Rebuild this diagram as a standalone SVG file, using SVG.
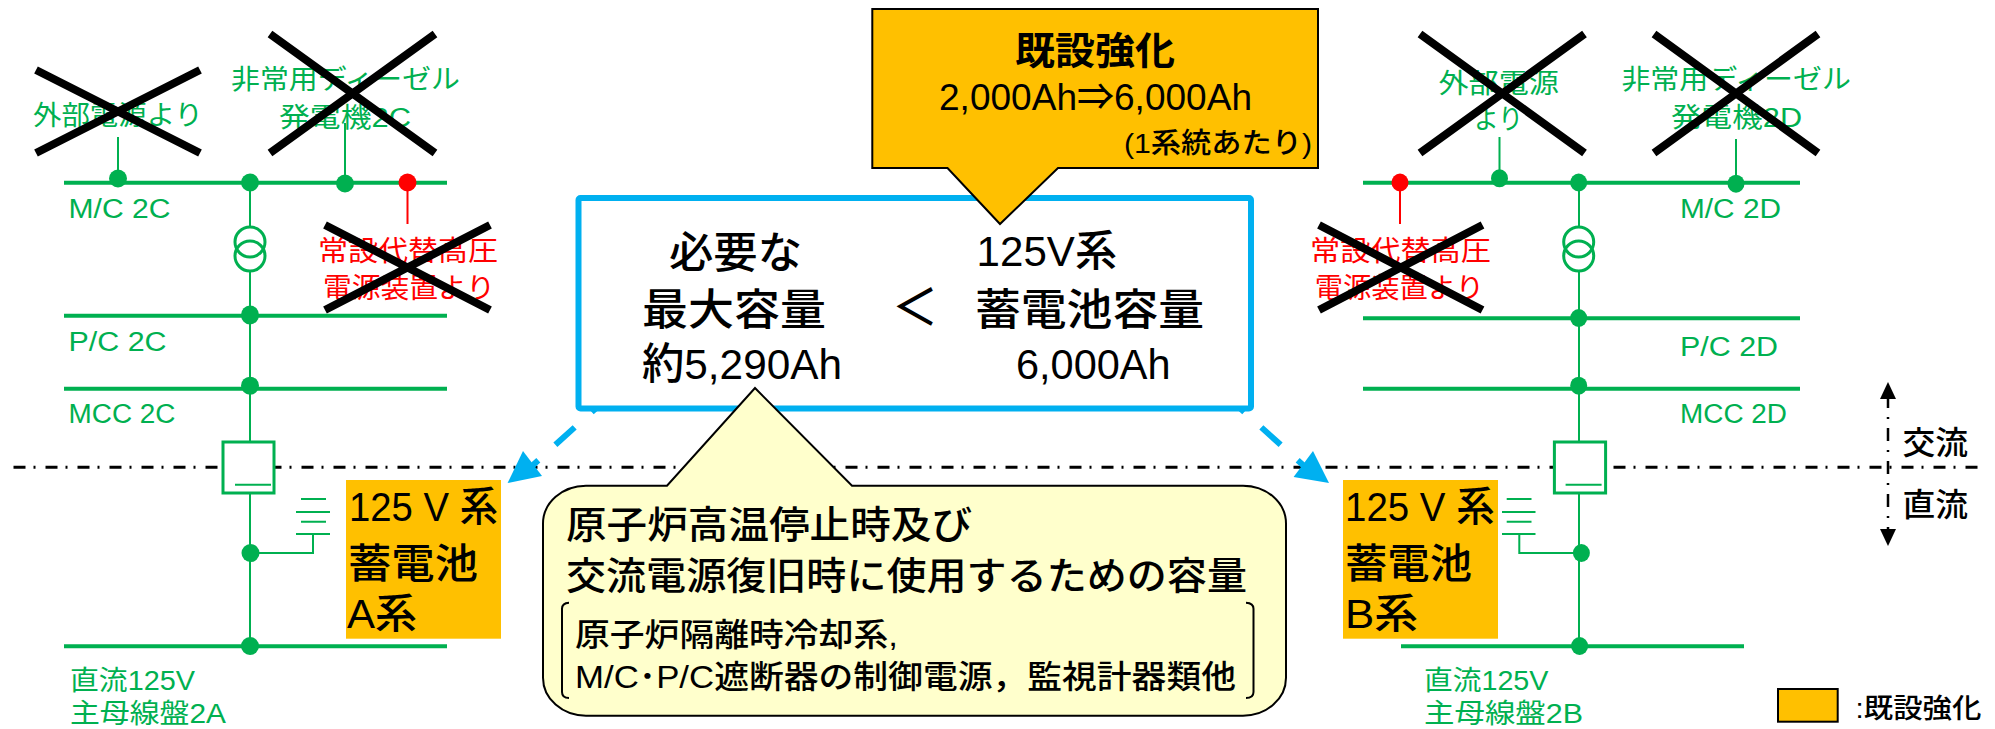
<svg xmlns="http://www.w3.org/2000/svg" width="1995" height="729" viewBox="0 0 1995 729">
<style>
text{font-family:"Liberation Sans","Noto Sans CJK JP",sans-serif;fill:#000}
.g{fill:#00B050;font-size:27px}
.r{fill:#FF0000;font-size:28px}
.k{font-size:41px;font-weight:500}
.c{font-size:43px;font-weight:500}
.b{font-size:38px;font-weight:500}
.s{font-size:32px;font-weight:500}
.bus{stroke:#00B050;stroke-width:4;fill:none}
.thin{stroke:#00B050;stroke-width:2;fill:none}
.sym{stroke:#00B050;stroke-width:3;fill:#fff}
.x{stroke:#000;stroke-width:8;fill:none}
.df{fill:#00B050}
.dr{fill:#FF0000}
.or{fill:#FFC000}
.dash{stroke:#00B0F0;stroke-width:6;stroke-dasharray:26 23;fill:none}
.dd{stroke:#000;stroke-width:3;stroke-dasharray:12 8 2 10;fill:none}
</style>
<rect width="1995" height="729" fill="#fff"/>
<g id="connectors">
<path class="dd" d="M13.500 467.300H1978"/>
<path class="dd" style="stroke-width:2.500;stroke-dasharray:13 9 2 9" d="M1888 395V535"/>
<polygon points="1888,382 1880,399 1896,399"/>
<polygon points="1888,546 1880,529 1896,529"/>
<path class="dash" d="M611 394.500L522 475"/>
<polygon fill="#00B0F0" points="507.600,483 523,451 542,476"/>
<path class="dash" d="M1225 394.500L1314 475"/>
<polygon fill="#00B0F0" points="1329,483 1313,451 1293.600,477"/>
<path class="bus" d="M64 182.700H447M64 315.700H447M64 388.700H447M64 646.300H447"/>
<path class="bus" d="M1363 182.700H1800M1363 318.300H1800M1363 388.700H1800M1401 646.300H1744"/>
<path class="thin" d="M250 182V227M250 271V646M118 137V178M345 123V183M313 534V553H250"/>
<path class="thin" d="M1579 182V227M1579 271V646M1499.500 137V178M1736 139V183M1519.300 534V553H1581"/>
<path class="thin" style="stroke:#f00" d="M407.500 182V224M1400 182V224"/>
</g>
<g id="left-system">
<g id="transformer-2c"><circle class="sym" style="fill:none" cx="250" cy="242" r="15"/><circle class="sym" style="fill:none" cx="250" cy="256" r="15"/></g>
<g id="charger-a"><rect class="sym" x="223" y="442" width="51" height="51"/><path class="thin" d="M235 484.700H271"/></g>
<g id="battery-a"><path class="thin" d="M301 499H326M296 512H330M301 521.700H326M296 534H330"/></g>
<g id="dots-a">
<ellipse class="df" cx="118" cy="178.500" rx="9" ry="9"/><ellipse class="df" cx="250" cy="182.500" rx="9" ry="9"/><ellipse class="df" cx="345" cy="183.500" rx="9" ry="9"/><ellipse class="dr" cx="407.500" cy="182.500" rx="9" ry="9"/>
<ellipse class="df" cx="250" cy="315" rx="9" ry="9.500"/><ellipse class="df" cx="250" cy="385.700" rx="9" ry="9"/><ellipse class="df" cx="250.500" cy="553" rx="9" ry="9"/><ellipse class="df" cx="250" cy="646" rx="9" ry="9"/>
</g>
<g id="labels-a">
<text class="g" x="33" y="125" textLength="170" lengthAdjust="spacingAndGlyphs">外部電源より</text>
<text class="g" x="231" y="89" textLength="229" lengthAdjust="spacingAndGlyphs">非常用ディーゼル</text>
<text class="g" x="279" y="127" textLength="132" lengthAdjust="spacingAndGlyphs">発電機2C</text>
<text class="r" x="318" y="261" textLength="180" lengthAdjust="spacingAndGlyphs">常設代替高圧</text>
<text class="r" x="323" y="298" textLength="172" lengthAdjust="spacingAndGlyphs">電源装置より</text>
<text class="g" x="68.500" y="217.500" textLength="102" lengthAdjust="spacingAndGlyphs">M/C 2C</text>
<text class="g" x="68.500" y="350.700" textLength="98" lengthAdjust="spacingAndGlyphs">P/C 2C</text>
<text class="g" x="68.500" y="423" textLength="107" lengthAdjust="spacingAndGlyphs">MCC 2C</text>
<text class="g" x="70" y="690" textLength="125" lengthAdjust="spacingAndGlyphs">直流125V</text>
<text class="g" x="70" y="723" textLength="156" lengthAdjust="spacingAndGlyphs">主母線盤2A</text>
</g>
<g id="battery-label-a">
<rect class="or" x="346" y="480" width="155" height="158.700"/>
<text class="k" x="349" y="521" textLength="149" lengthAdjust="spacingAndGlyphs">125 V 系</text>
<text class="k" x="348" y="578" textLength="130" lengthAdjust="spacingAndGlyphs">蓄電池</text>
<text class="k" x="347" y="628" textLength="70" lengthAdjust="spacingAndGlyphs">A系</text>
</g>
</g>
<g id="right-system">
<g id="transformer-2d"><circle class="sym" style="fill:none" cx="1578.700" cy="242" r="15"/><circle class="sym" style="fill:none" cx="1578.700" cy="256" r="15"/></g>
<g id="charger-b"><rect class="sym" x="1554.400" y="442" width="51.200" height="51"/><path class="thin" d="M1565.600 484.700H1601.600"/></g>
<g id="battery-b"><path class="thin" d="M1506.700 499H1531.500M1502 512H1535.500M1506.700 521.700H1531.500M1502 534H1535.500"/></g>
<g id="dots-b">
<ellipse class="dr" cx="1400" cy="182.500" rx="8.500" ry="9"/><ellipse class="df" cx="1499.500" cy="178.300" rx="8.500" ry="9"/><ellipse class="df" cx="1578.700" cy="182.500" rx="8.500" ry="9"/><ellipse class="df" cx="1736" cy="183.700" rx="8.500" ry="9"/>
<ellipse class="df" cx="1578.700" cy="318" rx="8.500" ry="9"/><ellipse class="df" cx="1578.700" cy="385.700" rx="8.500" ry="9"/><ellipse class="df" cx="1581.400" cy="553" rx="8.500" ry="9"/><ellipse class="df" cx="1579.600" cy="646" rx="8.500" ry="9"/>
</g>
<g id="labels-b">
<text class="g" x="1438.400" y="92.700" textLength="120.600" lengthAdjust="spacingAndGlyphs">外部電源</text>
<text class="g" x="1474" y="129" textLength="49" lengthAdjust="spacingAndGlyphs">より</text>
<text class="g" x="1621.400" y="89" textLength="229.600" lengthAdjust="spacingAndGlyphs">非常用ディーゼル</text>
<text class="g" x="1671" y="127" textLength="131" lengthAdjust="spacingAndGlyphs">発電機2D</text>
<text class="r" x="1310" y="261" textLength="181" lengthAdjust="spacingAndGlyphs">常設代替高圧</text>
<text class="r" x="1314.700" y="298" textLength="169.300" lengthAdjust="spacingAndGlyphs">電源装置より</text>
<text class="g" x="1680" y="217.500" textLength="101" lengthAdjust="spacingAndGlyphs">M/C 2D</text>
<text class="g" x="1680" y="356" textLength="98" lengthAdjust="spacingAndGlyphs">P/C 2D</text>
<text class="g" x="1680" y="423" textLength="107" lengthAdjust="spacingAndGlyphs">MCC 2D</text>
<text class="g" x="1424" y="690" textLength="124.500" lengthAdjust="spacingAndGlyphs">直流125V</text>
<text class="g" x="1424" y="723" textLength="159" lengthAdjust="spacingAndGlyphs">主母線盤2B</text>
</g>
<g id="battery-label-b">
<rect class="or" x="1343" y="480" width="155" height="158.700"/>
<text class="k" x="1345" y="521" textLength="149.600" lengthAdjust="spacingAndGlyphs">125 V 系</text>
<text class="k" x="1345" y="578" textLength="127" lengthAdjust="spacingAndGlyphs">蓄電池</text>
<text class="k" x="1345" y="628" textLength="73" lengthAdjust="spacingAndGlyphs">B系</text>
</g>
</g>
<g id="crosses">
<path class="x" d="M36 70L200 153M200 70L36 153"/>
<path class="x" d="M270 34L435 153M435 34L270 153"/>
<path class="x" d="M325 225L490 310M490 225L325 310"/>
<path class="x" d="M1420 34L1584.500 153M1584.500 34L1420 153"/>
<path class="x" d="M1654 34L1818 153M1818 34L1654 153"/>
<path class="x" d="M1319 225L1482.500 310M1482.500 225L1319 310"/>
</g>
<g id="capacity-box">
<rect x="578.500" y="198" width="672.500" height="210.500" rx="2" fill="#fff" stroke="#00B0F0" stroke-width="6"/>
<text class="c" x="669" y="268" textLength="133" lengthAdjust="spacingAndGlyphs">必要な</text>
<text class="c" x="642" y="325" textLength="184" lengthAdjust="spacingAndGlyphs">最大容量</text>
<text class="c" x="642" y="379" textLength="200" lengthAdjust="spacingAndGlyphs">約5,290Ah</text>
<text class="c" style="font-size:50px" x="892" y="325" textLength="46" lengthAdjust="spacingAndGlyphs">＜</text>
<text class="c" x="976.600" y="266" textLength="140.400" lengthAdjust="spacingAndGlyphs">125V系</text>
<text class="c" x="975" y="325" textLength="229" lengthAdjust="spacingAndGlyphs">蓄電池容量</text>
<text class="c" x="1016" y="379" textLength="154.500" lengthAdjust="spacingAndGlyphs">6,000Ah</text>
</g>
<g id="reinforce-callout">
<polygon class="or" stroke="#000" stroke-width="2" points="872.300,9 1318,9 1318,168 1058,168 1000,224 947.500,168 872.300,168"/>
<text style="font-size:38px;font-weight:700" x="1015" y="64" textLength="160" lengthAdjust="spacingAndGlyphs">既設強化</text>
<text style="font-size:36px;font-weight:500" x="939" y="110" textLength="313" lengthAdjust="spacingAndGlyphs">2,000Ah⇒6,000Ah</text>
<text style="font-size:28px;font-weight:500" x="1124" y="152.700" textLength="188" lengthAdjust="spacingAndGlyphs">(1系統あたり)</text>
</g>
<g id="purpose-callout">
<path fill="#FFFFCC" stroke="#000" stroke-width="2" d="M586 485.700H667L755 388L852 485.700H1243A43 38 0 0 1 1286 523.700V677.700A43 38 0 0 1 1243 715.700H586A43 38 0 0 1 543 677.700V523.700A43 38 0 0 1 586 485.700Z"/>
<text class="b" x="566" y="538" textLength="406" lengthAdjust="spacingAndGlyphs">原子炉高温停止時及び</text>
<text class="b" x="566" y="589" textLength="681" lengthAdjust="spacingAndGlyphs">交流電源復旧時に使用するための容量</text>
<text class="s" x="575" y="645.700" textLength="323" lengthAdjust="spacingAndGlyphs">原子炉隔離時冷却系,</text>
<text class="s" x="575" y="688" textLength="661" lengthAdjust="spacingAndGlyphs">M/C･P/C遮断器の制御電源，監視計器類他</text>
<path d="M569 602.700Q562 603 562 608.700V692Q562 698 569 698M1246 602.700Q1253.500 603 1253.500 608.700V692Q1253.500 698 1246 698" fill="none" stroke="#000" stroke-width="2"/>
</g>
<g id="ac-dc-labels">
<text style="font-size:32px;font-weight:500" x="1902.400" y="454" textLength="65.600" lengthAdjust="spacingAndGlyphs">交流</text>
<text style="font-size:32px;font-weight:500" x="1902.400" y="515.700" textLength="65.600" lengthAdjust="spacingAndGlyphs">直流</text>
</g>
<g id="legend">
<rect class="or" x="1778" y="689" width="59.700" height="32.700" stroke="#000" stroke-width="2"/>
<text style="font-size:27px;font-weight:500" x="1855.600" y="718" textLength="125.900" lengthAdjust="spacingAndGlyphs">:既設強化</text>
</g>
</svg>
